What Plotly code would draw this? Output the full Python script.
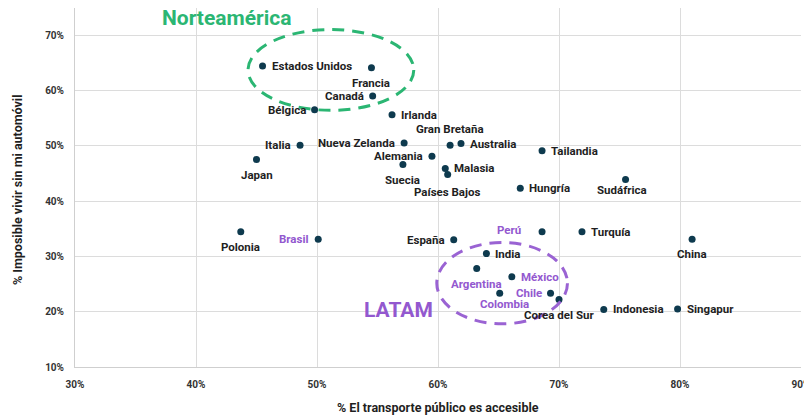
import plotly.graph_objects as go

# ---- data ----
countries = ["Estados Unidos", "Francia", "Canadá", "Bélgica", "Irlanda", "Italia", "Japan",
             "Nueva Zelanda", "Suecia", "Alemania", "Gran Bretaña", "Australia", "Malasia",
             "Países Bajos", "Hungría", "Tailandia", "Sudáfrica", "Polonia", "Brasil", "España",
             "Perú", "Turquía", "China", "India", "Argentina", "México", "Colombia", "Chile",
             "Corea del Sur", "Indonesia", "Singapur"]
transport_pct = [45.5, 54.5, 54.6, 49.8, 56.2, 48.6, 45.0,
                 57.2, 57.1, 59.5, 61.0, 61.9, 60.6,
                 60.8, 66.8, 68.6, 75.5, 43.7, 50.1, 61.3,
                 68.6, 71.9, 81.0, 64.0, 63.2, 66.1, 65.1, 69.3,
                 70.0, 73.7, 79.8]
no_car_pct = [64.4, 64.1, 59.0, 56.5, 55.6, 50.1, 47.5,
              50.5, 46.6, 48.1, 50.1, 50.4, 45.9,
              44.8, 42.3, 49.1, 43.9, 34.45, 33.1, 33.0,
              34.45, 34.45, 33.1, 30.5, 27.8, 26.3, 23.35, 23.35,
              22.2, 20.4, 20.5]
latam = ["Brasil", "Perú", "Argentina", "México", "Colombia", "Chile"]
x_ticks = [30, 40, 50, 60, 70, 80, 90]
y_ticks = [10, 20, 30, 40, 50, 60, 70]

# ---- label placement (style) ----
label_style = {
    "Estados Unidos": "right", "Francia": "below", "Canadá": "left",
    "Bélgica": "left", "Irlanda": "right", "Italia": "left", "Japan": "below",
    "Nueva Zelanda": "left", "Suecia": "below", "Alemania": "left",
    "Gran Bretaña": "above", "Australia": "right", "Malasia": "right",
    "Países Bajos": "below17", "Hungría": "right", "Tailandia": "right",
    "Sudáfrica": "below_sa", "Polonia": "below", "Brasil": "left",
    "España": "left", "Perú": "left_far", "Turquía": "right", "China": "below",
    "India": "right", "Argentina": "below", "México": "right",
    "Colombia": "below_co", "Chile": "left", "Corea del Sur": "below",
    "Indonesia": "right", "Singapur": "right",
}

DARK = "#1f1f1f"
PURPLE = "#9358CF"
GREEN = "#2BB673"
DOT = "#0E3A4E"
FONT = "Roboto"

# the page body has an 8px margin, so the figure is sized/offset to compensate
OFF = 8
W, H = 804, 411
ML, MR, MT, MB = 67, 11, 0, 52
PW, PH = W - ML - MR, H - MT - MB


def px_to_paper(px, py):
    # px, py are screen pixel positions
    return (px - OFF - ML) / PW, 1 - (py - OFF - MT) / PH


fig = go.Figure()
fig.add_trace(go.Scatter(
    x=transport_pct, y=no_car_pct, mode="markers",
    marker=dict(color=DOT, size=7), hoverinfo="text", text=countries, showlegend=False,
))

annotations = []
for name, xv, yv in zip(countries, transport_pct, no_car_pct):
    pos = label_style[name]
    col = PURPLE if name in latam else DARK
    kw = dict(x=xv, y=yv, xref="x", yref="y", text="<b>%s</b>" % name, showarrow=False,
              font=dict(family=FONT, size=11.5, color=col), yanchor="middle")
    if pos == "right":
        kw.update(xanchor="left", xshift=7)
    elif pos == "left":
        kw.update(xanchor="right", xshift=-7)
    elif pos == "left_far":
        kw.update(xanchor="right", xshift=-19, yshift=2)
    elif pos == "below":
        kw.update(xanchor="center", yshift=-15)
    elif pos == "below17":
        kw.update(xanchor="center", yshift=-17)
    elif pos == "below_sa":
        kw.update(xanchor="center", yshift=-11, xshift=-4)
    elif pos == "below_co":
        kw.update(xanchor="center", yshift=-11, xshift=5)
    elif pos == "above":
        kw.update(xanchor="center", yshift=16)
    annotations.append(kw)


def add_text(px, py, text, size, color, angle=0):
    x, y = px_to_paper(px, py)
    annotations.append(dict(x=x, y=y, xref="paper", yref="paper", text=text, showarrow=False,
                            xanchor="center", yanchor="middle", textangle=angle,
                            font=dict(family=FONT, size=size, color=color)))


add_text(227, 18, "<b>Norteamérica</b>", 21, GREEN)
add_text(398, 310, "<b>LATAM</b>", 21, PURPLE)
add_text(438, 407, "<b>% El transporte público es accesible</b>", 12.5, DARK)
add_text(17, 190, "<b>% Imposible vivir sin mi automóvil</b>", 12.5, DARK, angle=-90)

fig.update_layout(annotations=annotations)

# region ellipses (decoration)
fig.add_shape(type="circle", xref="x", yref="y", x0=44.3, x1=58.0, y0=56.4, y1=71.0,
              line=dict(color=GREEN, width=3, dash="12px,8px"))
fig.add_shape(type="circle", xref="x", yref="y", x0=59.9, x1=70.7, y0=17.8, y1=32.5,
              line=dict(color="#9A63D3", width=3, dash="12px,8px"))

fig.update_layout(
    width=W, height=H,
    margin=dict(l=ML, r=MR, t=MT, b=MB, autoexpand=False),
    paper_bgcolor="white", plot_bgcolor="white",
    font=dict(family=FONT, color=DARK),
    xaxis=dict(range=[30, 90], tickvals=x_ticks, ticktext=["<b>%d%%</b>" % v for v in x_ticks],
               showgrid=True, gridcolor="#dcdcdc", gridwidth=1, zeroline=False,
               showline=True, linecolor="#cfcfcf", linewidth=1, automargin=False,
               tickfont=dict(size=10, color="#333333"), ticks="", ticklabelstandoff=8),
    yaxis=dict(range=[10, 74.9], tickvals=y_ticks, ticktext=["<b>%d%%</b>" % v for v in y_ticks],
               showgrid=True, gridcolor="#dcdcdc", gridwidth=1, zeroline=False,
               showline=True, linecolor="#cfcfcf", linewidth=1, automargin=False,
               tickfont=dict(size=10, color="#333333"), ticks="", ticklabelstandoff=8),
)

fig.write_html("out.html")
